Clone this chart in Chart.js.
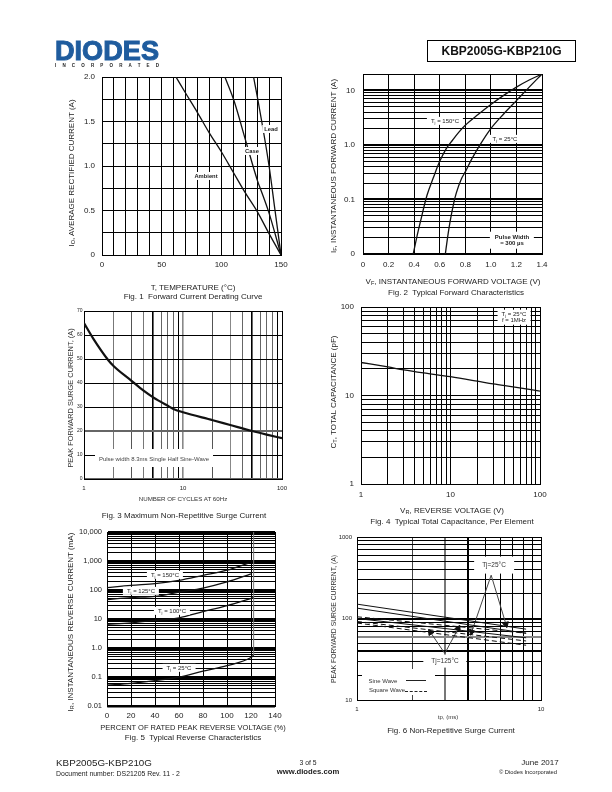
<!DOCTYPE html>
<html><head><meta charset="utf-8">
<script src="https://cdn.jsdelivr.net/npm/chart.js@4"></script>
<style>
html,body{margin:0;padding:0;background:#fff;width:612px;height:792px;overflow:hidden}
body{position:relative;font-family:"Liberation Sans",Arial,sans-serif;color:#222}
canvas{position:absolute}
.t{position:absolute;white-space:nowrap;transform:translate(-50%,-50%);z-index:3;line-height:1.05;text-align:center;will-change:transform}
.r{position:absolute;white-space:nowrap;transform:translate(-50%,-50%) rotate(-90deg);z-index:3}
.w{background:#fff}
.m{position:absolute;background:#fff;z-index:2}
sub{font-size:70%;line-height:0;vertical-align:baseline;position:relative;top:.25em}
</style></head><body>
<script>
/* Fig. 1 */
const fig1XTicks=[0,10,20,30,40,50,60,70,80,90,100,110,120,130,140,150];
const fig1XLabels=['0','','','','','50','','','','','100','','','','','150'];
const fig1YTicks=[0,0.25,0.5,0.75,1,1.25,1.5,1.75,2];
const fig1YLabels=['0','','0.5','','1.0','','1.5','','2.0'];
const ambientX=[62,70,80,90,100,110,120,130,140,150];
const ambientY=[2,1.82,1.6,1.37,1.16,0.93,0.7,0.49,0.24,0];
const caseX=[103,110.7,120.5,130.4,134,140,150];
const caseY=[2,1.73,1.28,0.83,0.7,0.47,0];
const leadX=[127,130.4,140,145,150];
const leadY=[2,1.76,1,0.5,0];
/* Fig. 2 */
const fig2XTicks=[0,0.2,0.4,0.6,0.8,1,1.2,1.4];
const fig2XLabels=['0','0.2','0.4','0.6','0.8','1.0','1.2','1.4'];
const fig2YTicks=[0.01,0.02,0.03,0.04,0.05,0.06,0.07,0.08,0.09,0.1,0.2,0.3,0.4,0.5,0.6,0.7,0.8,0.9,1,2,3,4,5,6,7,8,9,10,20];
const fig2YLabels=['0','','','','','','','','','0.1','','','','','','','','','1.0','','','','','','','','','10',''];
const vf150X=[0.393,0.42,0.45,0.5,0.55,0.6,0.65,0.7,0.75,0.8,0.9,1,1.1,1.2,1.3,1.4];
const vf150Y=[0.01,0.02,0.04,0.118,0.25,0.5,0.85,1.22,1.72,2.3,3.6,5.5,8.1,11.5,15.5,20];
const vf25X=[0.644,0.66,0.68,0.71,0.73,0.77,0.8,0.85,0.92,1,1.1,1.2,1.3,1.4];
const vf25Y=[0.01,0.019,0.038,0.087,0.132,0.24,0.32,0.55,1.05,2,3.7,6.5,11.5,20];
/* Fig. 3 */
const fig3XTicks=[1,2,3,4,5,6,7,8,9,10,20,30,40,50,60,70,80,90,100];
const fig3XLabels=['1','','','','','','','','','10','','','','','','','','','100'];
const fig3YTicks=[0,10,20,30,40,50,60,70];
const fig3YLabels=['0','10','20','30','40','50','60','70'];
const cyclesX=[1,1.24,1.76,2,3,4,5,7,8,10,20,30,50,70,100];
const surgeY=[65,58.5,49.5,47,41,36.8,34,30.5,29.2,27.8,24.5,22.5,20,18.5,17];
/* Fig. 4 */
const fig4Ticks=[1,2,3,4,5,6,7,8,9,10,20,30,40,50,60,70,80,90,100];
const fig4Labels=['1','','','','','','','','','10','','','','','','','','','100'];
const vrX=[1,2,3,5,10,20,30,50,100];
const capY=[23.6,21,19.5,18,16.3,14.5,13.5,12.5,11.2];
/* Fig. 5 */
const fig5XTicks=[0,20,40,60,80,100,120,140];
const fig5XLabels=['0','20','40','60','80','100','120','140'];
const fig5YTicks=[0.01,0.02,0.03,0.04,0.05,0.06,0.07,0.08,0.09,0.1,0.2,0.3,0.4,0.5,0.6,0.7,0.8,0.9,1,2,3,4,5,6,7,8,9,10,20,30,40,50,60,70,80,90,100,200,300,400,500,600,700,800,900,1000,2000,3000,4000,5000,6000,7000,8000,9000,10000];
const fig5YLabelMap={0.01:'0.01',0.1:'0.1',1:'1.0',10:'10',100:'100',1000:'1,000',10000:'10,000'};
const pctX=[0,20,40,60,80,100,120];
const ir150X=[0,20,40,60,80,100,118];
const ir150Y=[120,145,166,214,318,480,850];
const ir125Y=[47,55,60,85,117,190,360];
const ir100X=[0,20,40,60,80,100,122];
const ir100Y=[6.6,7.4,9,11,18,29,55];
const ir25X=[0,20,40,60,80,100,120,122.2];
const ir25Y=[0.052,0.06,0.075,0.1,0.16,0.245,0.47,0.56];
const breakdownX=[122.2,122.2];
const breakdownY=[0.56,10000];
/* Fig. 6 */
const fig6XTicks=[1,2,3,4,5,6,7,8,9,10];
const fig6XLabels=['1','','','','','','','','','10'];
const fig6YTicks=[10,20,30,40,50,60,70,80,90,100,200,300,400,500,600,700,800,900,1000];
const fig6YLabels=['10','','','','','','','','','100','','','','','','','','','1000'];
const tpX=[1,8.3];
const sineA=[150,74];
const sineB=[134,66];
const sineC=[100,58];
const squareA=[105,66];
const squareB=[92,53];
const squareC=[88,47];
const arrow25X=[4.2,5.36,6.45];
const arrow25Y=[68.6,340,85];
const arrow125X=[2.51,3,3.55];
const arrow125Y=[67.5,37.3,75.5];

const pts=(xs,ys)=>xs.map((x,i)=>({x,y:ys[i]}));
const FONT='"Liberation Sans",Arial,sans-serif';
const TXT='#222';
function curve(xs,ys,w,extra){return Object.assign({data:pts(xs,ys),borderColor:'#111',borderWidth:w||1.3,pointRadius:0,fill:false,cubicInterpolationMode:'monotone',showLine:true},extra||{});}
function axis(type,min,max,ticks,labels,o){
  o=o||{};
  return {type,min,max,
    afterBuildTicks(s){s.ticks=ticks.map(value=>({value}));},
    afterFit(s){ if(o.fit){s.height=o.fit;} else {s.width=42;}
      s.paddingLeft=s.paddingRight=s.paddingTop=s.paddingBottom=0; },
    border:{display:true,color:'#000',width:1},
    grid:{drawTicks:false,color:o.color||'#000',lineWidth:o.width||1},
    ticks:{autoSkip:false,maxRotation:0,minRotation:0,padding:o.pad||5,color:TXT,
      font:{family:FONT,size:o.size||8},
      callback:(v,i)=>Array.isArray(labels)?labels[i]:(labels[ticks[i]]||'')}};
}
function chart(box,xScale,yScale,datasets){
  const [l,t,r,b]=box, cv=document.createElement('canvas');
  const W=42+(r-l)+14, H=8+(b-t)+16;
  cv.style.width=W+'px'; cv.style.height=H+'px';
  cv.width=W; cv.height=H;
  const wrap=document.createElement('div');
  wrap.style.cssText='position:absolute;left:'+(l-42)+'px;top:'+(t-8)+'px;width:'+W+'px;height:'+H+'px';
  cv.style.left='0';cv.style.top='0';
  wrap.appendChild(cv);document.body.appendChild(wrap);
  new Chart(cv,{type:'scatter',data:{datasets},options:{responsive:false,animation:false,devicePixelRatio:1,
    layout:{padding:{left:0,right:14,top:8,bottom:0}},
    plugins:{legend:{display:false},tooltip:{enabled:false},title:{display:false}},
    scales:{x:xScale,y:yScale}}});
}
function t(x,y,html,size,o){o=o||{};const d=document.createElement('div');d.className='t'+(o.bg?' w':'');
  d.style.cssText='left:'+x+'px;top:'+y+'px;font-size:'+size+'px;'+(o.b?'font-weight:bold;':'')+(o.css||'');
  d.innerHTML=html;document.body.appendChild(d);return d;}
function r(x,y,html,size,o){o=o||{};const d=document.createElement('div');d.className='r';
  d.style.cssText='left:'+x+'px;top:'+y+'px;font-size:'+size+'px;'+(o.css||'');d.innerHTML=html;document.body.appendChild(d);}
function mask(l,tp,ri,bo){const d=document.createElement('div');d.className='m';
  d.style.cssText='left:'+l+'px;top:'+tp+'px;width:'+(ri-l)+'px;height:'+(bo-tp)+'px';document.body.appendChild(d);}
function line(l,tp,w,style){const d=document.createElement('div');
  d.style.cssText='position:absolute;z-index:3;left:'+l+'px;top:'+tp+'px;width:'+w+'px;border-top:1px '+style+' #222';document.body.appendChild(d);}
const note='padding:1px 4px;';

/* Fig. 1 */
chart([102,77,281,255],
  axis('linear',0,150,fig1XTicks,fig1XLabels,{fit:16}),
  axis('linear',0,2,fig1YTicks,fig1YLabels,{pad:7}),
  [curve(ambientX,ambientY),curve(caseX,caseY),curve(leadX,leadY)]);
t(205.7,175.7,'Ambient',5.8,{bg:1,b:1,css:'padding:1px 2px;'});
t(252,151.3,'Case',5.8,{bg:1,b:1,css:'padding:1px 2px;'});
t(271.3,129,'Lead',5.8,{bg:1,b:1,css:'padding:1px 2px;'});
r(70.7,173,'I<sub>O</sub>, AVERAGE RECTIFIED CURRENT (A)',8);
t(193,288,'T, TEMPERATURE (°C)',8);
t(192.7,297,'Fig. 1&nbsp; Forward Current Derating Curve',8);

/* Fig. 2 */
chart([363,74,542,254],
  axis('linear',0,1.4,fig2XTicks,fig2XLabels,{fit:16,pad:6}),
  axis('logarithmic',0.01,20,fig2YTicks,fig2YLabels,{pad:8,width:c=>[0.01,0.1,1,10].includes(c.tick.value)?2:1}),
  [curve(vf150X,vf150Y),curve(vf25X,vf25Y)]);
t(445,120.7,'T<sub>j</sub> = 150°C',6,{bg:1,css:note});
t(505,139,'T<sub>j</sub> = 25°C',6,{bg:1,css:note});
t(512.3,240,'Pulse Width<br>= 300 µs',6,{bg:1,b:1,css:'padding:2px 5px;'});
r(332.7,165.7,'I<sub>F</sub>, INSTANTANEOUS FORWARD CURRENT (A)',8);
t(453.3,282.3,'V<sub>F</sub>, INSTANTANEOUS FORWARD VOLTAGE (V)',8);
t(455.7,292.7,'Fig. 2&nbsp; Typical Forward Characteristics',8);

/* Fig. 3 */
const c3={2:'#777',3:'#555',4:'#777',5:'#000',6:'#666',7:'#666',8:'#666',9:'#000',10:'#888',20:'#555',30:'#888',40:'#666',50:'#000',60:'#666',70:'#666',80:'#666',90:'#000',1:'#000',100:'#000'};
chart([84,311,282,479],
  axis('logarithmic',1,100,fig3XTicks,fig3XLabels,{fit:16,size:6,pad:6,color:c=>c3[c.tick.value]||'#000',width:c=>[5,10,50].includes(c.tick.value)?1.6:1}),
  axis('linear',0,70,fig3YTicks,fig3YLabels,{size:5,pad:1.5,color:c=>[0,20].includes(c.tick.value)?'#666':'#000',width:c=>[0,20].includes(c.tick.value)?2:1}),
  [curve(cyclesX,surgeY,2.2)]);
mask(95,449,213,467);
t(154,458.7,'Pulse width 8.3ms Single Half Sine-Wave',6,{css:'color:#444;'});
r(70,398,'PEAK FORWARD SURGE CURRENT, (A)',7.4,{css:'color:#333;'});
t(183,498.7,'NUMBER OF CYCLES AT 60Hz',6.2,{css:'color:#333;'});
t(184,515.7,'Fig. 3 Maximum Non-Repetitive Surge Current',8);

/* Fig. 4 */
chart([361,307,540,484],
  axis('logarithmic',1,100,fig4Ticks,fig4Labels,{fit:16,pad:6}),
  axis('logarithmic',1,100,fig4Ticks,fig4Labels,{pad:7}),
  [curve(vrX,capY)]);
t(514,317.3,'T<sub>j</sub> = 25°C<br>f = 1MHz',6,{bg:1,css:'padding:1px 4px;'});
r(332.7,392.3,'C<sub>T</sub>, TOTAL CAPACITANCE (pF)',8);
t(451.7,510.7,'V<sub>R</sub>, REVERSE VOLTAGE (V)',8);
t(451.7,521.7,'Fig. 4&nbsp; Typical Total Capacitance, Per Element',8);

/* Fig. 5 */
const dec5=[0.01,0.1,1,10,100,1000,10000];
chart([107,532,275,706],
  axis('linear',0,140,fig5XTicks,fig5XLabels,{fit:16,pad:5}),
  axis('logarithmic',0.01,10000,fig5YTicks,fig5YLabelMap,{pad:5,size:7.5,width:c=>dec5.includes(c.tick.value)?2.4:[0.9,9,90,900].includes(c.tick.value)?1.6:1}),
  [curve(ir150X,ir150Y),curve(pctX,ir125Y),curve(ir100X,ir100Y),curve(ir25X,ir25Y),
   curve(breakdownX,breakdownY,1,{borderColor:'#777',cubicInterpolationMode:'default',tension:0})]);
t(165,575,'T<sub>j</sub> = 150°C',6,{bg:1,css:note});
t(140.7,591,'T<sub>j</sub> = 125°C',6,{bg:1,css:note});
t(171.7,610.7,'T<sub>j</sub> = 100°C',6,{bg:1,css:note});
t(179.3,667.7,'T<sub>j</sub> = 25°C',6,{bg:1,css:note});
r(70,621.7,'I<sub>R</sub>, INSTANTANEOUS REVERSE CURRENT (mA)',8);
t(193.3,728.3,'PERCENT OF RATED PEAK REVERSE VOLTAGE (%)',7.5);
t(193.3,737.5,'Fig. 5&nbsp; Typical Reverse Characteristics',8);

/* Fig. 6 */
const cx6={2:'#444',3:'#777'};
const cy6={60:'#888'};
const straight={cubicInterpolationMode:'default',tension:0};
const dash=Object.assign({borderDash:[5,3]},straight);
const arrowOpts=r=>Object.assign({borderColor:'#444',pointBackgroundColor:'#111',pointBorderColor:'#111',pointStyle:'triangle',pointRadius:[3.5,0,3.5],pointRotation:r},straight);
chart([357,537,541,700],
  axis('logarithmic',1,10,fig6XTicks,fig6XLabels,{fit:16,size:6,pad:6,color:c=>cx6[c.tick.value]||'#000',width:c=>[3,4].includes(c.tick.value)?2:1}),
  axis('logarithmic',10,1000,fig6YTicks,fig6YLabels,{size:6,pad:5,color:c=>cy6[c.tick.value]||'#000',width:c=>[40,60,100].includes(c.tick.value)?2:1}),
  [curve(tpX,sineA,1,straight),curve(tpX,sineB,1,straight),curve(tpX,sineC,1,straight),
   curve(tpX,squareA,1,dash),curve(tpX,squareB,1,dash),curve(tpX,squareC,1,dash),
   curve(arrow25X,arrow25Y,1,arrowOpts([-161,0,163])),
   curve(arrow125X,arrow125Y,1,arrowOpts([-34,0,28]))]);
mask(362,669,435,695);
t(494,565,'Tj=25°C',6.5,{bg:1,css:'padding:5px 8px;color:#333;'});
t(445,660.5,'Tj=125°C',6.5,{bg:1,css:'padding:3px 8px;color:#333;'});
t(382.8,680.7,'Sine Wave',6,{css:'color:#333;'});
t(386.7,690,'Square Wave',6,{css:'color:#333;'});
line(406,679.5,20,'solid');
line(405,690.5,22,'dashed');
r(333.3,618.7,'PEAK FORWARD SURGE CURRENT, (A)',6.8,{css:'color:#333;'});
t(448.3,716.7,'tp, (ms)',6,{css:'color:#333;'});
t(451,730.7,'Fig. 6 Non-Repetitive Surge Current',8);

/* Page furniture */
const logo=document.createElement('div');
logo.style.cssText='position:absolute;left:50px;top:36px;z-index:3';
logo.innerHTML='<svg width="120" height="34" xmlns="http://www.w3.org/2000/svg"><text x="5" y="24" font-family="Liberation Sans" font-weight="bold" font-size="27" fill="#1f5c9e" stroke="#1f5c9e" stroke-width="1" textLength="104" lengthAdjust="spacingAndGlyphs">DIODES</text><text x="5" y="31" font-family="Liberation Sans" font-weight="bold" font-size="4.5" fill="#222" textLength="104" lengthAdjust="spacing">INCORPORATED</text></svg>';
document.body.appendChild(logo);
const hdr=document.createElement('div');
hdr.style.cssText='position:absolute;left:427px;top:40px;width:147px;height:20px;border:1.3px solid #000;font:bold 12px/20px "Liberation Sans";text-align:center;color:#111;will-change:transform';
hdr.textContent='KBP2005G-KBP210G';document.body.appendChild(hdr);
t(104,763.3,'KBP2005G-KBP210G',9.8,{});
t(118,774,'Document number: DS21205 Rev. 11 - 2',6.9,{});
t(308,763,'3 of 5',6.8,{});
t(308,772,'www.diodes.com',7.7,{b:1});
t(540.3,763,'June 2017',8,{});
t(528,772,'© Diodes Incorporated',5.8,{});
</script>
</body></html>
